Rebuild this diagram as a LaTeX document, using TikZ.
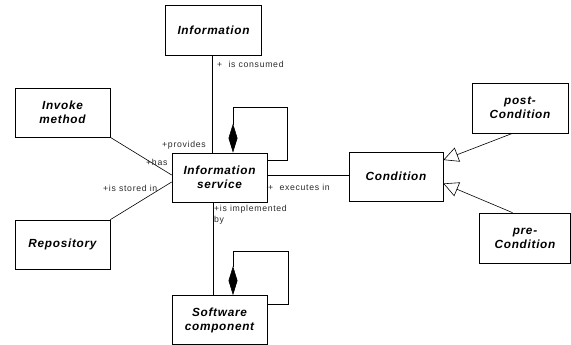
\documentclass[tikz,border=0pt]{standalone}
\usepackage{fontspec}
\setmainfont{Liberation Sans}
\newfontfamily\boxfont[LetterSpace=6]{Liberation Sans}
\newfontfamily\lblfont[LetterSpace=8]{Liberation Sans}
\usetikzlibrary{arrows.meta}
\definecolor{lblgray}{HTML}{2A2A2A}
\tikzset{
  umlbox/.style={draw=black, line width=0.7pt, inner sep=0pt, align=center,
    font=\boxfont\bfseries\itshape\fontsize{11.8}{13}\selectfont,
    fill=white},
  conn/.style={draw=black, line width=0.6pt},
  lbl/.style={inner sep=0pt, text=lblgray, font=\lblfont\fontsize{8.7}{10.5}\selectfont, align=left},
  compo/.style={conn, {Diamond[length=29pt,width=9pt,fill=black]}-},
  gener/.style={conn, -{Triangle[open,length=15pt,width=15pt,fill=white]}}
}
\begin{document}
\begin{tikzpicture}[x=1pt,y=-1pt]
\useasboundingbox (0,0) rectangle (571,345);
% boxes
\node[umlbox, minimum width=96pt, minimum height=50pt] (info) at (213.5,30) {Information};
\node[umlbox, minimum width=95pt, minimum height=49pt] (inv) at (62.5,112.5) {Invoke\\[1pt]method};
\node[umlbox, minimum width=95pt, minimum height=49pt] (svc) at (219.5,177.5) {Information\\[1pt]service};
\node[umlbox, minimum width=95pt, minimum height=49pt] (repo) at (62.5,244.5) {Repository};
\node[umlbox, minimum width=95pt, minimum height=49pt] (sw) at (219.5,320) {Software\\[1pt]component};
\node[umlbox, minimum width=94pt, minimum height=49pt] (cond) at (396,176.5) {Condition};
\node[umlbox, minimum width=96pt, minimum height=50pt] (post) at (520,108) {post-\\[1pt]Condition};
\node[umlbox, minimum width=91pt, minimum height=50pt] (pre) at (525,238) {pre-\\[1pt]Condition};
% helper coordinates
\coordinate (vx1) at (212.5,0);
\coordinate (vx2) at (213.5,0);
\coordinate (lpx1) at (233,0);
\coordinate (lpA) at (287.5,107);
\coordinate (lpy1) at (0,160);
\coordinate (lpB) at (288.5,251);
\coordinate (lpy2) at (0,304);
\coordinate (hy) at (0,175.7);
% connectors
\draw[conn] (info.south -| vx1) -- (svc.north -| vx1);
\draw[compo] (svc.north -| lpx1) |- (lpA) |- (svc.east |- lpy1);
\draw[conn] (inv.south east) -- ([yshift=2.5pt]svc.west);
\draw[conn] (repo.north east) -- ([yshift=-4.5pt]svc.west);
\draw[conn] (svc.east |- hy) -- (cond.west |- hy);
\draw[conn] (svc.south -| vx2) -- (sw.north -| vx2);
\draw[compo] (sw.north -| lpx1) |- (lpB) |- (sw.east |- lpy2);
\draw[gener] ([xshift=-7.5pt]post.south) -- ([yshift=16.5pt]cond.east);
\draw[gener] ([xshift=-12.5pt]pre.north) -- ([yshift=-7pt]cond.east);
% labels
\node[lbl, anchor=west] (l1) at (217,64) {+\ \ is consumed};
\node[lbl, anchor=west] (l2) at (162,145) {+provides};
\node[lbl, anchor=west] (l3) at (146,162) {+has};
\node[lbl, anchor=west] (l4) at (103,188) {+is stored in};
\node[lbl, anchor=west] (l5) at (268,187) {+\ \ executes in};
\node[lbl, anchor=north west] (l6) at (214,205) {+is implemented\\by};
\end{tikzpicture}
\end{document}
